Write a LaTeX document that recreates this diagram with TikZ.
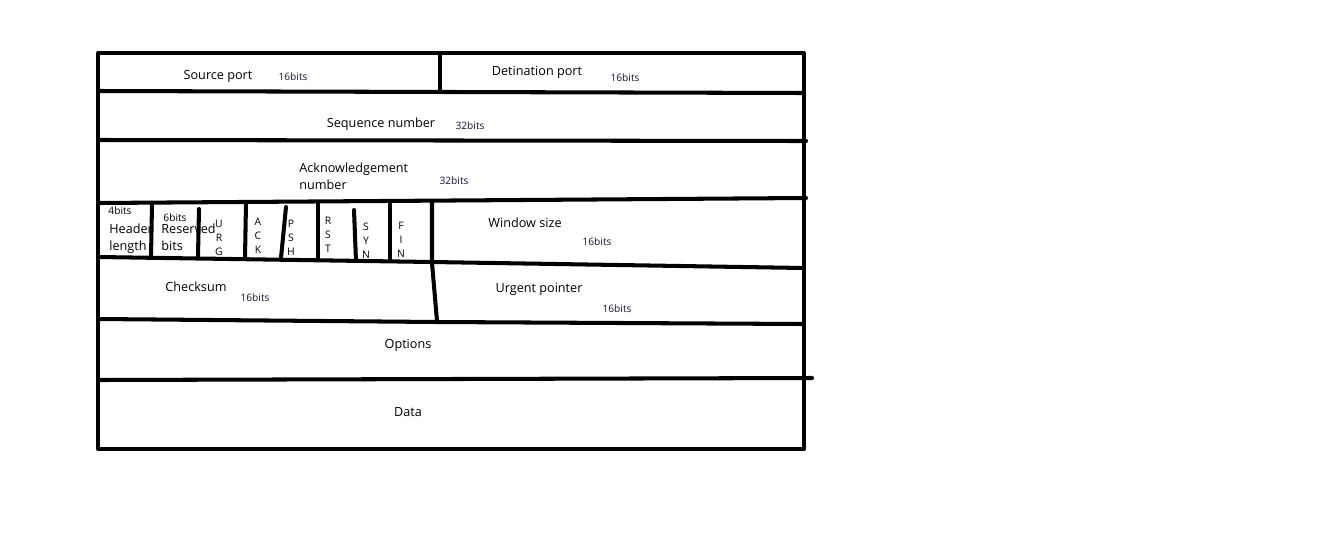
\documentclass[tikz,border=0pt]{standalone}
\usepackage{fontspec}
\setmainfont{Open Sans}
\usepackage{tikz}
\definecolor{bitsblue}{RGB}{20,20,60}
\tikzset{
  wall/.style={line width=2.3pt, line cap=round, line join=round},
  lbl/.style={inner sep=0pt, font=\fontsize{7.2}{9.6}\selectfont},
  bits/.style={inner sep=0pt, text=bitsblue, font=\fontsize{5.8}{7}\selectfont},
  flag/.style={inner sep=0pt, align=center, font=\fontsize{5.9}{7.9}\selectfont}
}

\begin{document}
\begin{tikzpicture}[x={(0.02cm,0)}, y={(0,-0.02cm)}]
		%%%%% START %%%%%
		\useasboundingbox (0,0) rectangle (1344,558);
		
		% field names
		\node[lbl] (src) at (218,76) {Source port};
		\node[bits] (srcb) at (293,77) {16bits};
		\node[lbl] (dst) at (537,72) {Detination port};
		\node[bits] (dstb) at (625,78) {16bits};
		
		\node[lbl] (seq) at (381,124) {Sequence number};
		\node[bits] (seqb) at (470,126) {32bits};
		
		\node[lbl, anchor=west, align=left] (ack) at (299,176) {Acknowledgement\\number};
		\node[bits] (ackb) at (454,181) {32bits};
		
		\node[bits, text=black] (hlb) at (120,211) {4bits};
		\node[lbl, anchor=west, align=left] (hl) at (109,239) {Header\\length};
		\node[bits, text=black] (resb) at (175,218) {6bits};
		\node[lbl, anchor=west, align=left] (res) at (161,237) {Reserved\\bits};
		
		% flag letters
		\node[flag] (urg) at (219,238) {U\\R\\G};
		\node[flag] (ackf) at (258,236) {A\\C\\K};
		\node[flag] (psh) at (291,238) {P\\S\\H};
		\node[flag] (rst) at (328,235) {R\\S\\T};
		\node[flag] (syn) at (366,241) {S\\Y\\N};
		\node[flag] (fin) at (401,240) {F\\I\\N};
		
		\node[lbl] (win) at (525,223) {Window size};
		\node[bits] (winb) at (597,242) {16bits};
		
		\node[lbl] (chk) at (196,287) {Checksum};
		\node[bits] (chkb) at (255,298) {16bits};
		\node[lbl] (urp) at (539,289) {Urgent pointer};
		\node[bits] (urpb) at (617,309) {16bits};
		
		\node[lbl] (opt) at (408,345) {Options};
		\node[lbl] (data) at (408,412) {Data};
		
		% outer box
		\draw[wall] (98,53) -- (804,53) -- (804,449) -- (98,449) -- cycle;
		
		% rows
		\draw[wall] (98,91) -- (804,93);
		\draw[wall] (98,140) -- (806,141);
		\draw[wall] (98,203) -- (806,198);
		\draw[wall] (98,257) -- (432,262) -- (804,268);
		\draw[wall] (98,319) -- (437,322) -- (804,324);
		\draw[wall] (98,380) -- (812,378);
		
		% dividers
		\draw[wall] (440,53) -- (440,92);
		\draw[wall] (152,205) -- (151,257);
		\draw[wall] (199,209) -- (198,256);
		\draw[wall] (246,203) -- (245,258);
		\draw[wall] (286,207) -- (281,258);
		\draw[wall] (318,202) -- (318,260);
		\draw[wall] (354,210) -- (356,261);
		\draw[wall] (390,204) -- (390,261);
		\draw[wall] (432,203) -- (432,263) -- (437,321);
		
		%%%%% END %%%%%
\end{tikzpicture}
\end{document}
